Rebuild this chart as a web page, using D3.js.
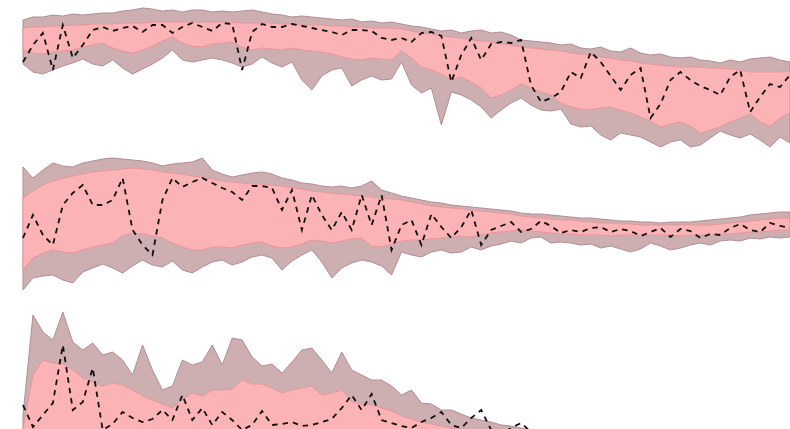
<!DOCTYPE html>
<html>
<head>
<meta charset="utf-8">
<script src="https://cdn.jsdelivr.net/npm/d3@7"></script>
<style>
  html, body { margin: 0; padding: 0; background: #fff; }
  #chart { width: 790px; height: 429px; overflow: hidden; }
</style>
</head>
<body>
<div id="chart"></div>
<script>
// sample index (one step per time slot)
const steps = d3.range(78);

// panel 1
const p1OuterUp = [130,133,133,135,134,136,135,136,137,137,139,140,142,141,139,140,138,140,140,138,139,138,139,140,138,136,135,133,134,133,132,131,130,131,128,129,127,128,126,124,123,121,119,120,117,119,120,117,118,115,110,109,108,107,105,106,102,101,103,99,98,102,97,95,96,93,92,93,90,89,87,90,88,91,92,93,90,88];
const p1InnerUp = [122,123,123,124,124,125,125,126,126,126,127,127,127,128,128,128,128,128,128,128,128,128,127,127,127,127,126,126,125,125,125,124,124,123,123,122,122,122,121,119,117,116,114,113,112,110,109,108,106,105,103,102,101,100,99,97,96,95,93,92,90,89,87,86,85,84,83,83,83,82,82,81,80,78,78,78,78,79];
const p1InnerLow = [100,97,96,98,99,100,103,105,107,102,99,97,100,104,109,113,107,104,103,106,107,108,103,100,102,101,100,102,100,99,98,96,93,91,90,92,91,90,99,92,83,80,76,70,73,68,62,52,55,60,66,62,58,55,47,43,41,40,42,43,40,37,33,29,23,26,28,24,17,20,23,28,32,36,28,24,32,37];
const p1OuterLow = [86,78,76,80,84,87,91,86,84,90,82,76,81,86,92,100,90,88,90,92,90,87,83,86,93,87,83,88,70,60,74,80,82,64,70,74,70,71,88,65,57,62,25,58,55,50,43,32,40,47,52,45,40,39,41,26,23,24,15,10,17,15,13,8,3,8,10,3,5,12,19,15,12,16,10,3,13,7];
const p1Path = [88,105,117,80,125,92,105,120,123,119,122,124,118,125,125,117,123,127,123,119,127,126,80,118,126,123,123,126,124,122,120,118,115,120,120,119,112,110,112,108,117,118,114,68,95,112,90,106,108,107,110,65,48,52,58,78,72,98,88,74,60,75,82,32,46,70,78,70,64,60,55,73,80,38,53,66,63,75];

// panel 2
const p2OuterUp = [133,122,130,137,134,133,137,139,141,142,141,140,139,137,134,136,137,138,142,130,126,123,125,127,128,126,122,120,117,116,114,113,114,112,114,119,110,107,104,102,100,98,97,95,94,93,92,91,90,89,87,86,86,85,84,83,82,82,81,80,79,79,78,78,77,78,78,78,79,80,81,82,83,85,86,87,88,88];
const p2InnerUp = [102,109,115,119,122,124,126,128,129,130,131,132,131,130,128,127,126,124,123,121,119,118,117,116,116,115,114,112,111,109,108,107,106,105,104,103,102,101,100,98,96,94,93,92,91,90,89,88,87,86,84,83,82,81,80,80,79,78,77,77,76,76,75,75,75,75,75,75,75,75,76,77,78,79,80,81,82,82];
const p2InnerLow = [30,42,47,50,48,47,50,53,55,57,64,67,66,64,62,57,53,50,50,53,53,52,55,57,58,54,52,53,56,60,59,57,59,61,62,54,53,56,59,60,60,61,62,63,64,63,65,67,68,69,70,69,68,67,66,66,65,65,65,64,65,65,64,65,65,65,64,65,65,65,66,66,67,68,68,69,70,70];
const p2OuterLow = [10,22,24,25,20,17,28,32,36,32,27,34,40,35,33,39,30,27,33,38,40,35,38,43,45,42,30,39,45,50,38,22,32,37,40,38,34,25,48,45,43,48,50,47,48,53,50,54,56,59,57,62,63,57,58,57,55,56,52,54,51,48,51,57,54,50,52,55,57,55,59,60,59,62,61,63,62,63];
const p2Path = [62,85,65,55,95,107,115,95,95,100,122,70,55,45,100,122,113,118,122,117,112,108,100,114,114,112,90,110,70,105,85,70,88,70,105,75,105,50,75,80,55,86,73,62,73,90,55,70,74,78,68,71,79,74,67,70,68,72,73,68,71,69,64,68,72,63,71,69,62,66,65,72,76,70,68,77,74,72];

// panel 3 (runs past the bottom edge)
const p3OuterUp = [35,135,118,110,138,108,100,107,95,98,90,75,105,80,60,64,90,85,88,105,85,112,110,93,84,86,77,88,100,102,90,77,98,80,75,70,70,64,55,60,47,46,40,40,36,32,30,28,25,24,22,20,17,15,13,11,9,8,7,6,5,4,4,3,3,2,2,2,1,1,1,1,0,0,0,0,0,0];
const p3InnerUp = [22,75,90,87,86,80,72,68,64,67,65,60,54,50,46,42,50,57,54,60,60,61,70,66,66,62,57,60,62,64,55,57,60,48,46,45,42,39,34,31,28,26,24,22,20,18,16,14,12,10,9,8,7,6,5,5,4,4,3,3,3,2,2,2,2,1,1,1,1,1,0,0,0,0,0,0,0,0];
const p3InnerLow = [-6,-9,-8,-12,-15,-13,-18,-17,-21,-20,-24,-23,-26,-28,-27,-31,-30,-33,-35,-34,-37,-39,-38,-41,-43,-42,-46,-45,-48,-50,-49,-52,-54,-53,-57,-56,-59,-61,-60,-63,-65,-64,-67,-69,-68,-71,-70,-73,-75,-74,-77,-79,-78,-81,-80,-83,-85,-84,-87,-86,-89,-91,-90,-93,-95,-94,-97,-96,-99,-101,-100,-103,-102,-105,-107,-106,-109,-108];
const p3OuterLow = [-22,-27,-24,-30,-33,-29,-36,-35,-40,-37,-43,-41,-45,-48,-44,-50,-49,-53,-55,-51,-57,-60,-56,-62,-64,-61,-67,-65,-69,-72,-68,-74,-76,-73,-79,-77,-81,-84,-80,-86,-88,-85,-90,-93,-89,-95,-92,-97,-100,-96,-102,-105,-101,-107,-104,-109,-112,-108,-114,-111,-116,-119,-115,-121,-124,-120,-126,-123,-128,-131,-127,-133,-130,-135,-138,-134,-140,-137];
const p3Path = [45,23,35,47,105,40,48,82,20,26,38,32,28,31,40,30,55,30,42,25,38,30,20,25,39,25,26,28,24,25,28,31,42,55,40,56,30,27,24,22,28,32,38,25,22,32,40,20,16,22,27,18,12,10,8,12,6,9,5,7,4,6,3,5,2,4,1,3,0,2,-1,1,-2,0,-3,-1,-4,-2];

const panels = [
  { outerUp: p1OuterUp, innerUp: p1InnerUp, innerLow: p1InnerLow, outerLow: p1OuterLow, path: p1Path },
  { outerUp: p2OuterUp, innerUp: p2InnerUp, innerLow: p2InnerLow, outerLow: p2OuterLow, path: p2Path },
  { outerUp: p3OuterUp, innerUp: p3InnerUp, innerLow: p3InnerLow, outerLow: p3OuterLow, path: p3Path }
];

const width = 790;
const height = 429;
const panelHeight = 150;

const svg = d3.select('#chart').append('svg')
  .attr('width', width)
  .attr('height', height);

const x = d3.scaleLinear()
  .domain([0, steps.length - 1])
  .range([23, 790]);

panels.forEach((p, k) => {
  const base = panelHeight * (k + 1);
  const y = d3.scaleLinear()
    .domain([0, 150])
    .range([base, base - 150]);

  const g = svg.append('g');

  const outer = d3.area()
    .x(i => x(i))
    .y0(i => y(p.outerLow[i]))
    .y1(i => y(p.outerUp[i]));

  const inner = d3.area()
    .x(i => x(i))
    .y0(i => y(p.innerLow[i]))
    .y1(i => y(p.innerUp[i]));

  g.append('path')
    .datum(steps)
    .attr('fill', '#cdaeb1')
    .attr('stroke', '#b38e93')
    .attr('stroke-width', 1)
    .attr('d', outer);

  g.append('path')
    .datum(steps)
    .attr('fill', '#fcb3b5')
    .attr('stroke', '#e8979b')
    .attr('stroke-width', 1)
    .attr('d', inner);

  const line = d3.line()
    .x(i => x(i))
    .y(i => y(p.path[i]));

  g.append('path')
    .datum(steps)
    .attr('fill', 'none')
    .attr('stroke', '#111')
    .attr('stroke-width', 1.8)
    .attr('stroke-dasharray', '5.5,5')
    .attr('d', line);
});
</script>
</body>
</html>
